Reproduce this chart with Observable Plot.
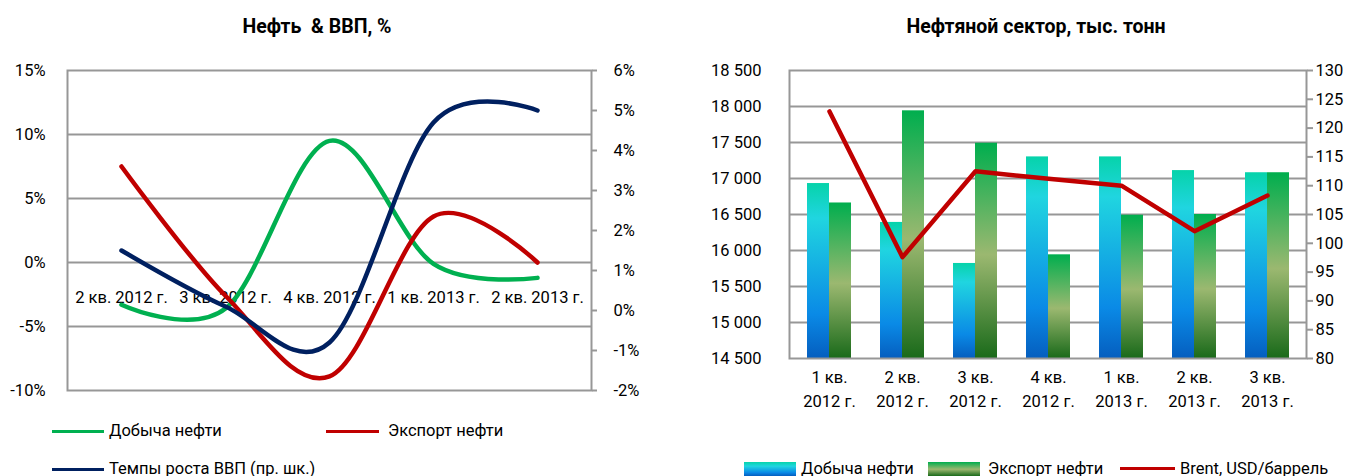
<!DOCTYPE html>
<html><head><meta charset="utf-8">
<script src="https://cdn.jsdelivr.net/npm/d3@7"></script>
<script src="https://cdn.jsdelivr.net/npm/@observablehq/plot@0.6"></script>
<style>
body{margin:0;background:#fff;width:1358px;height:476px;overflow:hidden;position:relative;font-family:Roboto,"Open Sans",sans-serif;color:#000}
.abs{position:absolute}
.title{font-weight:bold;font-size:19.5px;white-space:pre;text-align:center;height:24px;line-height:24px}
.leg{position:absolute;font-size:16.5px;white-space:nowrap;height:20px;line-height:20px}
.sw{position:absolute}
</style></head><body>
<script>
// ---------- Left chart data (percent) ----------
const catsLeft = ["2 кв. 2012 г.", "3 кв. 2012 г.", "4 кв. 2012 г.", "1 кв. 2013 г.", "2 кв. 2013 г."];
const oilProductionPct = [-3.3, -3.6, 9.5, -0.1, -1.2];
const oilExportPct = [7.5, -2.6, -8.9, 3.6, 0.0];
const gdpGrowthPct = [1.5, 0.1, -0.8, 4.7, 5.0]; // right axis
const leftTicks = [-10, -5, 0, 5, 10, 15];
const rightTicksLeftChart = [-2, -1, 0, 1, 2, 3, 4, 5, 6];

// ---------- Right chart data (thousand tonnes, USD/barrel) ----------
const catsRight = ["1 кв.\n2012 г.", "2 кв.\n2012 г.", "3 кв.\n2012 г.", "4 кв.\n2012 г.", "1 кв.\n2013 г.", "2 кв.\n2013 г.", "3 кв.\n2013 г."];
const productionTons = [16930, 16390, 15820, 17300, 17300, 17110, 17080];
const exportTons = [16660, 17940, 17490, 15940, 16490, 16500, 17080];
const brentUsd = [122.9, 97.6, 112.5, 111.2, 110.0, 102.1, 108.3];
const tonsTicks = [14500, 15000, 15500, 16000, 16500, 17000, 17500, 18000, 18500];
const brentTicks = [80, 85, 90, 95, 100, 105, 110, 115, 120, 125, 130];

const FONT = 'Roboto, "Open Sans", sans-serif';
const GRID = "#979797";
const GREEN = "#00b050", RED = "#c00000", NAVY = "#002060";

function add(el, css) { Object.assign(el.style, css); document.body.appendChild(el); return el; }
function div(cls, text, css) { const d = document.createElement("div"); d.className = cls; if (text) d.textContent = text; return add(d, css); }

// Titles
div("title abs", "Нефть  & ВВП, %", {left: "0px", width: "634px", top: "15px"});
div("title abs", "Нефтяной сектор, тыс. тонн", {left: "836px", width: "400px", top: "15px"});

// ---------- Left chart ----------
const toLeft = d3.scaleLinear().domain([-2, 6]).range([-10, 15]);
const left = Plot.plot({
  width: 680, height: 370,
  marginTop: 20, marginBottom: 30, marginLeft: 67, marginRight: 89,
  style: {fontFamily: FONT, fontSize: "16.5px", color: "#000", background: "transparent", overflow: "visible"},
  x: {type: "point", domain: catsLeft, padding: 0.5, axis: null},
  y: {domain: [-10, 15], axis: null},
  marks: [
    Plot.ruleY([10, 5, 0, -5], {stroke: GRID, strokeWidth: 2}),
    Plot.frame({stroke: GRID, strokeWidth: 2}),
    Plot.axisY(leftTicks, {anchor: "left", tickSize: 0, tickPadding: 22, tickFormat: d => d + "%"}),
    Plot.axisY(rightTicksLeftChart.map(d => toLeft(d)), {anchor: "right", tickSize: 5, tickPadding: 17, stroke: GRID, strokeWidth: 2, tickFormat: d => Math.round(toLeft.invert(d)) + "%"}),
    Plot.text(catsLeft, {x: d => d, y: () => 0, dy: 35, text: d => d}),
    Plot.line(oilProductionPct, {x: (d, i) => catsLeft[i], y: d => d, curve: "cardinal", tension: 0, stroke: GREEN, strokeWidth: 4.5}),
    Plot.line(oilExportPct, {x: (d, i) => catsLeft[i], y: d => d, curve: "cardinal", tension: 0, stroke: RED, strokeWidth: 4.5}),
    Plot.line(gdpGrowthPct, {x: (d, i) => catsLeft[i], y: d => toLeft(d), curve: "cardinal", tension: 0, stroke: NAVY, strokeWidth: 4.5})
  ]
});
add(left, {position: "absolute", left: "0px", top: "50px"});

// Left legend
function lineSw(x1, x2, y, color, h) { div("sw", "", {left: x1 + "px", width: (x2 - x1) + "px", top: (y - h / 2) + "px", height: h + "px", background: color}); }
lineSw(52, 104, 431, GREEN, 3);
div("leg", "Добыча нефти", {left: "109px", top: "421px"});
lineSw(326, 379, 431, RED, 3);
div("leg", "Экспорт нефти", {left: "388px", top: "421px"});
lineSw(52, 104, 469, NAVY, 3);
div("leg", "Темпы роста ВВП (пр. шк.)", {left: "109px", top: "459px"});

// ---------- Right chart ----------
const toTons = d3.scaleLinear().domain([80, 130]).range([14500, 18500]);
const fmt = d3.formatLocale({decimal: ",", thousands: " ", grouping: [3], currency: ["", ""]}).format(",");
const right = Plot.plot({
  width: 678, height: 380,
  marginTop: 20, marginBottom: 72, marginLeft: 109, marginRight: 52,
  style: {fontFamily: FONT, fontSize: "16.5px", color: "#000", background: "transparent", overflow: "visible"},
  x: {type: "band", domain: catsRight, paddingInner: 0.404, paddingOuter: 0.202, axis: null},
  y: {domain: [14500, 18500], axis: null},
  marks: [
    Plot.ruleY(tonsTicks.slice(1, -1), {stroke: GRID, strokeWidth: 2}),
    Plot.barY(productionTons, {x: (d, i) => catsRight[i], y1: 14500, y2: d => d, fill: "url(#gradProd)", insetRight: 22}),
    Plot.barY(exportTons, {x: (d, i) => catsRight[i], y1: 14500, y2: d => d, fill: "url(#gradExp)", insetLeft: 22}),
    Plot.frame({stroke: GRID, strokeWidth: 2}),
    Plot.axisY(tonsTicks, {anchor: "left", tickSize: 0, tickPadding: 28, tickFormat: d => fmt(d)}),
    Plot.axisY(brentTicks.map(d => toTons(d)), {anchor: "right", tickSize: 6, tickPadding: 3, stroke: GRID, strokeWidth: 2, tickFormat: d => Math.round(toTons.invert(d))}),
    Plot.text(catsRight, {x: d => d, frameAnchor: "bottom", dy: 48, text: d => d, lineHeight: 1.4}),
    Plot.line(brentUsd, {x: (d, i) => catsRight[i], y: d => toTons(d), stroke: RED, strokeWidth: 4.5})
  ]
});
const ns = "http://www.w3.org/2000/svg";
const defs = document.createElementNS(ns, "defs");
defs.innerHTML = `
<linearGradient id="gradProd" x1="0" y1="0" x2="0" y2="1">
  <stop offset="0" stop-color="#06d3aa"/><stop offset="0.2" stop-color="#20d5e0"/>
  <stop offset="0.75" stop-color="#0a8ae6"/><stop offset="1" stop-color="#055ebf"/>
</linearGradient>
<linearGradient id="gradExp" x1="0" y1="0" x2="0" y2="1">
  <stop offset="0" stop-color="#00ae4e"/><stop offset="0.52" stop-color="#9bb870"/>
  <stop offset="1" stop-color="#1a6a1a"/>
</linearGradient>`;
right.insertBefore(defs, right.firstChild);
add(right, {position: "absolute", left: "680px", top: "50px"});

// Right legend
div("sw", "", {left: "744px", width: "52px", top: "462px", height: "14px", background: "linear-gradient(#06d3aa, #20d5e0 30%, #0a8ae6 75%, #055ebf)"});
div("leg", "Добыча нефти", {left: "801px", top: "459px"});
div("sw", "", {left: "928px", width: "52px", top: "462px", height: "14px", background: "linear-gradient(#00ae4e, #9bb870 52%, #1a6a1a)"});
div("leg", "Экспорт нефти", {left: "988px", top: "459px"});
lineSw(1120, 1175, 468, RED, 3);
div("leg", "Brent, USD/баррель", {left: "1180px", top: "459px"});
</script>
</body></html>
